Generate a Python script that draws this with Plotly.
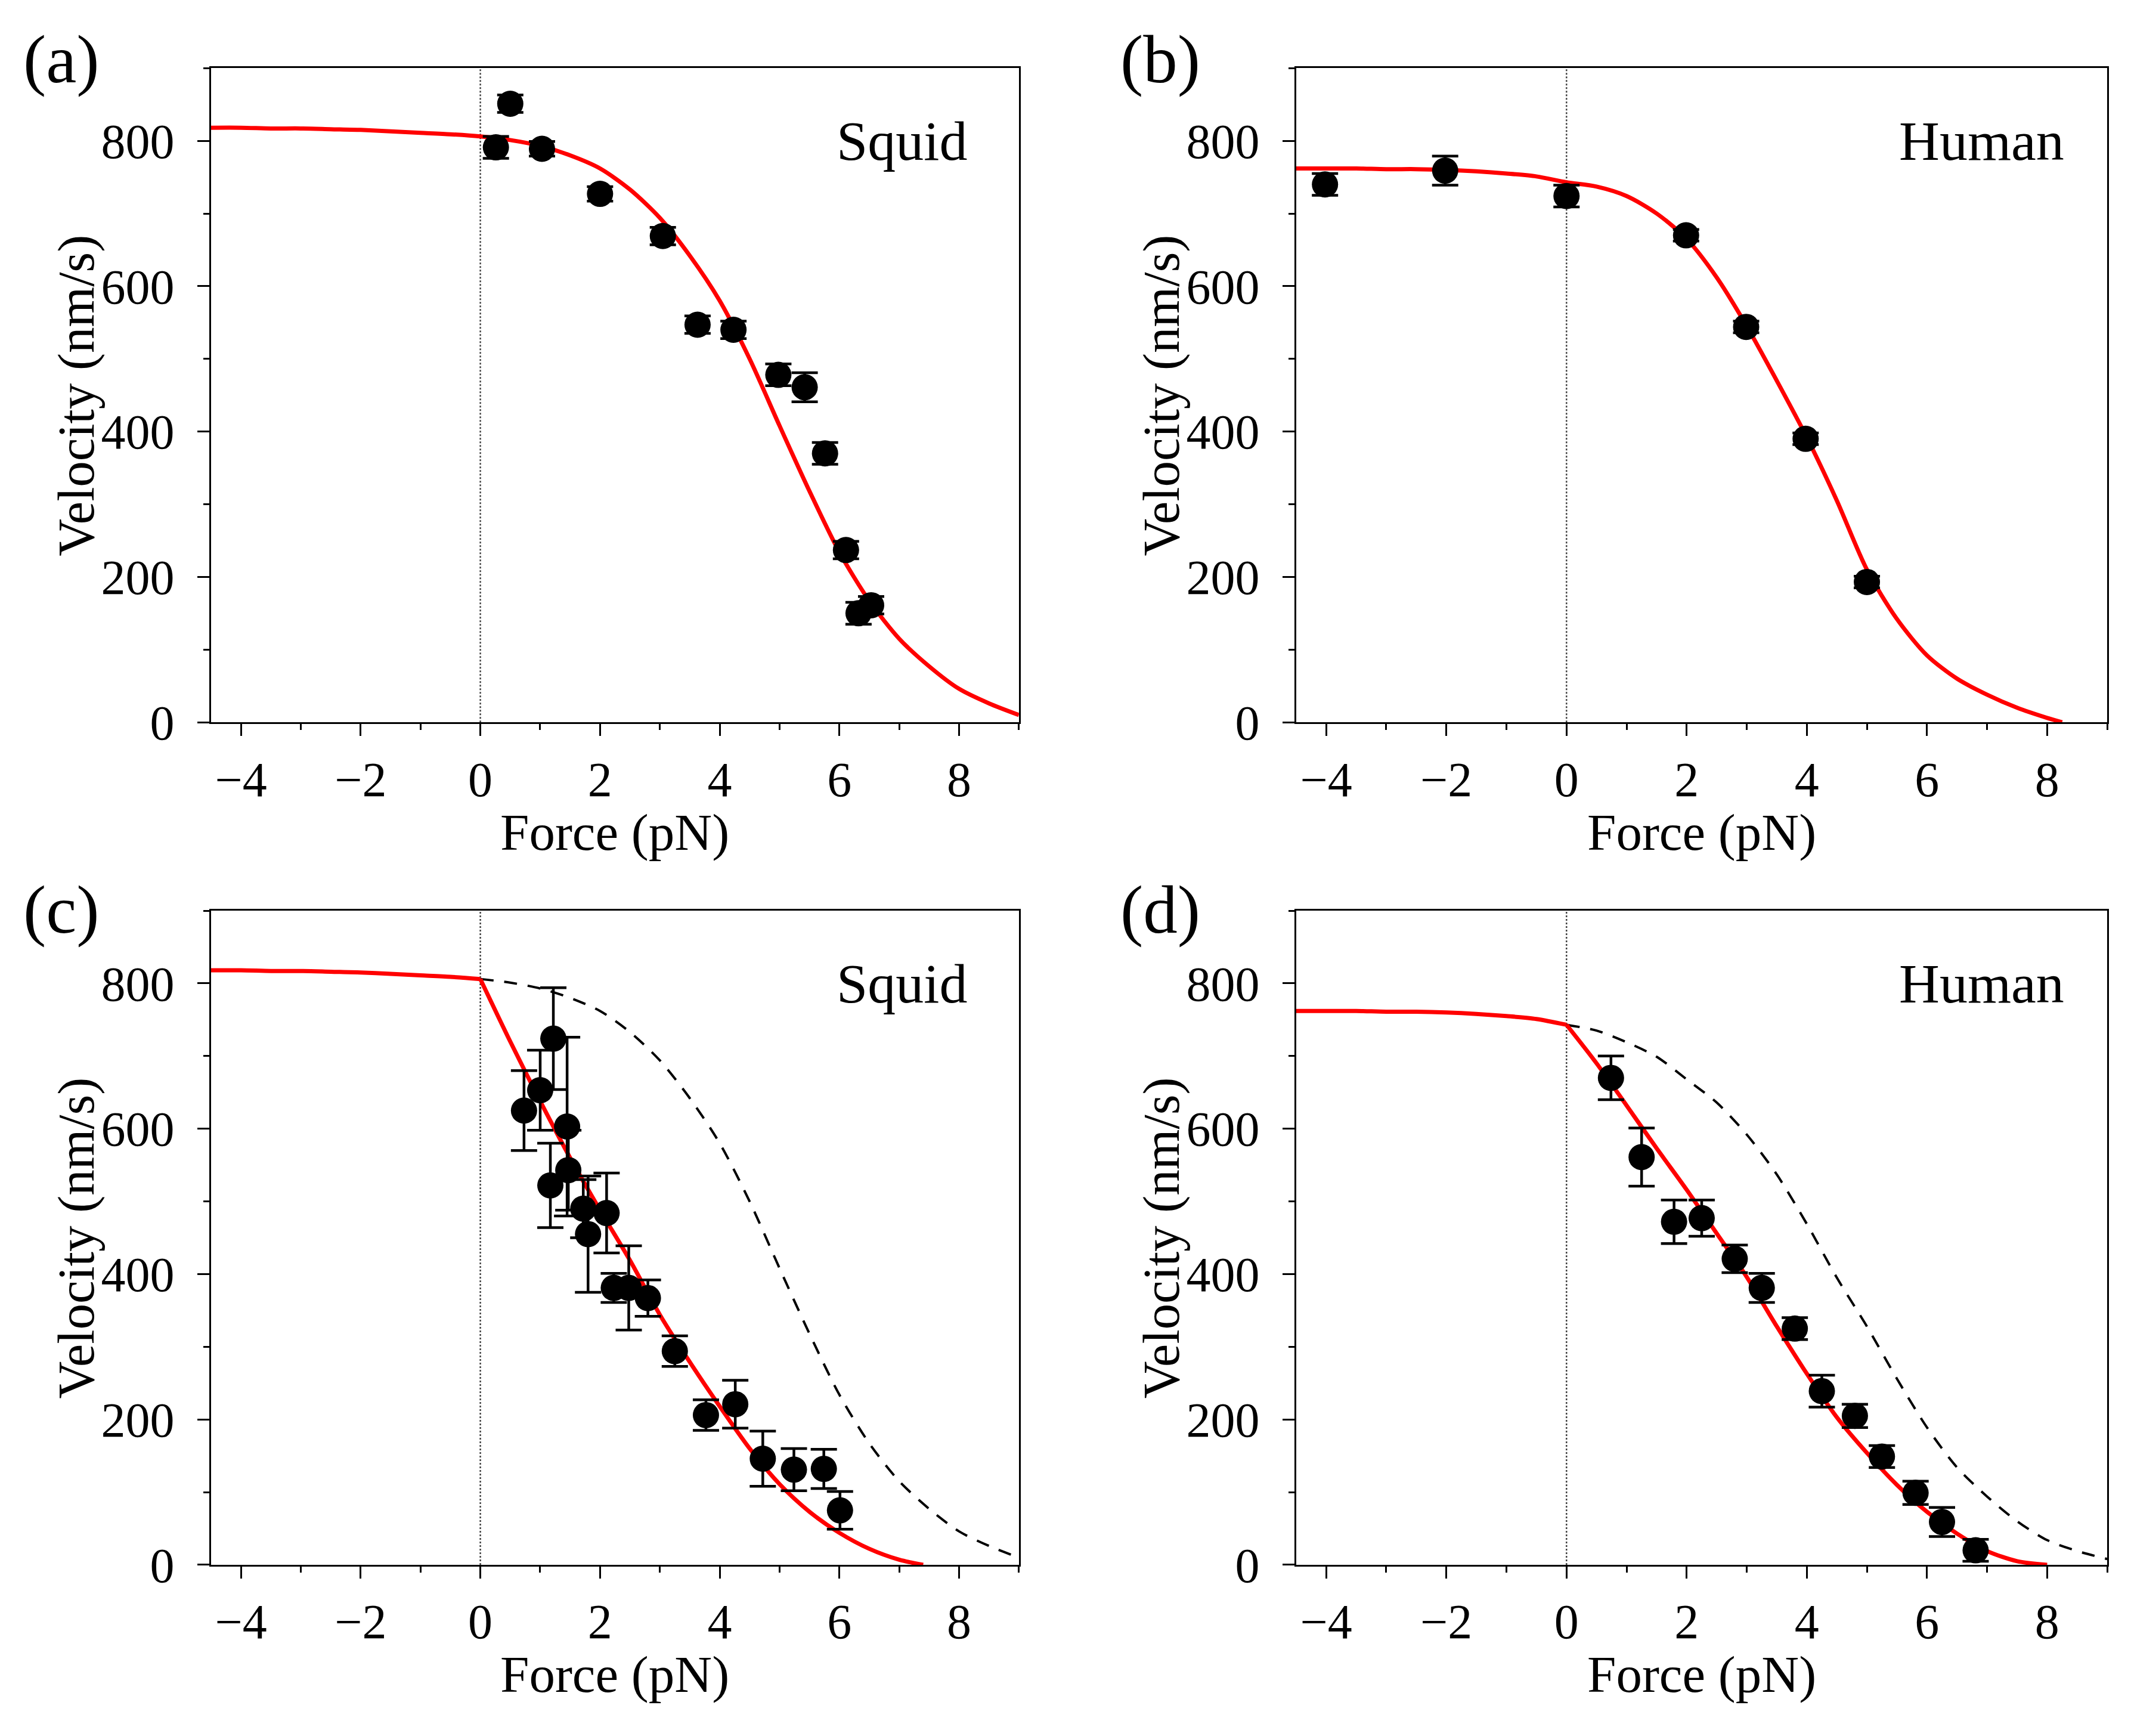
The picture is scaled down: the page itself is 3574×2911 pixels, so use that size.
import plotly.graph_objects as go

# Data
# (a) squid, unloaded force-velocity
squid_f = [0.26, 0.5, 1.03, 2.0, 3.05, 3.63, 4.23, 4.98, 5.42, 5.76, 6.11, 6.32, 6.53]
squid_v = [791, 851, 789, 727, 669, 547, 540, 478, 461, 370, 237, 150, 161]
squid_err = [15, 12, 10, 10, 12, 12, 12, 15, 20, 15, 12, 15, 12]

# (b) human
human_f = [-4.02, -2.02, 0.0, 1.99, 2.99, 3.98, 5.0]
human_v = [740, 759, 724, 670, 544, 390, 193]
human_err = [15, 20, 15, 8, 8, 8, 8]

# (c) squid, second data set
squid2_f = [0.73, 1.0, 1.22, 1.17, 1.45, 1.47, 1.72, 1.8, 2.11, 2.23, 2.48, 2.8,
            3.25, 3.77, 4.26, 4.72, 5.24, 5.74, 6.01]
squid2_v = [625, 653, 724, 522, 603, 543, 490, 455, 484, 381, 381, 367,
            294, 206, 221, 146, 131, 132, 75]
squid2_err = [55, 55, 70, 58, 123, 55, 40, 80, 55, 20, 58, 25,
              21, 21, 33, 38, 29, 27, 26]

# (d) human, second data set
human2_f = [0.74, 1.25, 1.79, 2.25, 2.8, 3.25, 3.8, 4.25, 4.8, 5.25, 5.81, 6.25, 6.81]
human2_v = [670, 561, 472, 477, 421, 381, 325, 239, 205, 149, 99, 59, 20]
human2_err = [30, 40, 30, 25, 19, 20, 15, 22, 16, 15, 16, 20, 15]

# fitted curves
fit_f = [-4.5, -4, -3.5, -3, -2.5, -2, -1.5, -1, -0.5, 0, 0.5, 1, 1.5, 2, 2.5, 3,
         3.5, 4, 4.5, 5, 5.5, 6, 6.5, 7, 7.5, 8, 8.5, 9]
squid_fit = [818, 818, 817, 817, 816, 815, 813, 811, 809, 806, 801, 793, 780, 762,
             733, 694, 642, 580, 500, 408, 318, 234, 167, 115, 77, 46, 26, 10]
human_fit_f = fit_f[:26] + [8.25]
human_fit = [762, 762, 762, 761, 761, 760, 758, 755, 751, 743, 737, 724, 700, 665,
             612, 545, 470, 392, 305, 210, 142, 92, 60, 38, 20, 6, 0]

# load curves for F >= 0 in (c) and (d)
load_f = [0, 0.5, 1, 1.5, 2, 2.5, 3, 3.5, 4, 4.5, 5, 5.5, 6, 6.5, 7, 7.5, 8, 8.5, 9]
squid_load_f = load_f[:15] + [7.4]
squid_load = [806, 720, 638, 560, 488, 419, 344, 279, 218, 160, 111, 73, 44, 22, 7, 0]
human_load = [743, 690, 632, 573, 516, 456, 396, 328, 263, 203, 154, 110, 73, 43, 19, 5, 0]
human_ref = [743, 735, 719, 699, 668, 636, 592, 537, 469, 395, 328, 256, 189, 134,
             94, 60, 34, 19, 8]

x_ticks = [-4, -2, 0, 2, 4, 6, 8]
y_ticks = [0, 200, 400, 600, 800]

FONT = "Liberation Serif"
RED = "#FF0000"

fig = go.Figure()


def points(f, v, e, ax):
    fig.add_trace(go.Scatter(
        x=f, y=v, mode="markers", xaxis="x" + ax, yaxis="y" + ax,
        marker=dict(color="black", size=44),
        error_y=dict(type="data", array=e, color="black", thickness=4.5, width=22),
        showlegend=False, cliponaxis=False))


def curve(f, v, ax, color=RED, width=7, dash="solid"):
    fig.add_trace(go.Scatter(
        x=f, y=v, mode="lines", xaxis="x" + ax, yaxis="y" + ax,
        line=dict(color=color, width=width, dash=dash, shape="spline", smoothing=0.8),
        showlegend=False, hoverinfo="skip"))


n0 = fit_f.index(0)

# (a)
curve(fit_f, squid_fit, "")
points(squid_f, squid_v, squid_err, "")
# (b)
curve(human_fit_f, human_fit, "2")
points(human_f, human_v, human_err, "2")
# (c)
curve(fit_f[n0:], squid_fit[n0:], "3", color="black", width=4, dash="22px,18px")
curve(fit_f[:n0 + 1], squid_fit[:n0 + 1], "3")
curve(squid_load_f, squid_load, "3")
points(squid2_f, squid2_v, squid2_err, "3")
# (d)
curve(load_f, human_ref, "4", color="black", width=4, dash="22px,18px")
curve(human_fit_f[:n0 + 1], human_fit[:n0 + 1], "4")
curve(load_f[:17], human_load, "4")
points(human2_f, human2_v, human2_err, "4")

# panel domains
xdom = {"": [0.0968, 0.4759], "2": [0.6060, 0.9866], "3": [0.0968, 0.4759], "4": [0.6060, 0.9866]}
ydom = {"": [0.5799, 0.9629], "2": [0.5799, 0.9629], "3": [0.0866, 0.4696], "4": [0.0866, 0.4696]}
over = {"": "5", "2": "6", "3": "7", "4": "8"}

layout = dict(
    width=3574, height=2911,
    margin=dict(l=0, r=0, t=0, b=0),
    paper_bgcolor="white", plot_bgcolor="white",
    font=dict(family=FONT, color="black", size=82),
)

for ax in ["", "2", "3", "4"]:
    layout["xaxis" + ax] = dict(
        domain=xdom[ax], anchor="y" + ax, range=[-4.5, 9],
        tickvals=x_ticks, ticks="outside", ticklen=20, tickwidth=3, tickcolor="black",
        minor=dict(dtick=1, tick0=0, ticks="outside", ticklen=10, tickwidth=3, tickcolor="black"),
        showline=True, linecolor="black", linewidth=3, mirror=True,
        showgrid=False, zeroline=False,
        tickfont=dict(size=82), ticklabelstandoff=2,
    )
    layout["yaxis" + ax] = dict(
        domain=ydom[ax], anchor="x" + ax, range=[0, 900],
        tickvals=y_ticks, ticks="outside", ticklen=20, tickwidth=3, tickcolor="black",
        minor=dict(dtick=100, tick0=0, ticks="outside", ticklen=10, tickwidth=3, tickcolor="black"),
        showline=True, linecolor="black", linewidth=3, mirror=True,
        showgrid=False, zeroline=False,
        tickfont=dict(size=82), ticklabelstandoff=22,
    )
    o = over[ax]
    # inward ticks on the top and right frame
    layout["xaxis" + o] = dict(
        overlaying="x" + ax, side="top", anchor="y" + ax, range=[-4.5, 9],
        tickvals=x_ticks, ticks="inside", ticklen=20, tickwidth=3, tickcolor="black",
        minor=dict(dtick=1, tick0=0, ticks="inside", ticklen=10, tickwidth=3, tickcolor="black"),
        showticklabels=False, showline=False, showgrid=False, zeroline=False,
    )
    layout["yaxis" + o] = dict(
        overlaying="y" + ax, side="right", anchor="x" + ax, range=[0, 900],
        tickvals=y_ticks, ticks="inside", ticklen=20, tickwidth=3, tickcolor="black",
        minor=dict(dtick=100, tick0=0, ticks="inside", ticklen=10, tickwidth=3, tickcolor="black"),
        showticklabels=False, showline=False, showgrid=False, zeroline=False,
    )

fig.update_layout(**layout)

for ax in ["", "2", "3", "4"]:
    # dotted line at zero force
    fig.add_shape(type="line", xref="x" + ax, yref="y" + ax + " domain",
                  x0=0, x1=0, y0=0, y1=1, layer="below",
                  line=dict(color="#444444", width=2.5, dash="dot"))
    # axis titles
    fig.add_annotation(x=0.5, y=0, xref="x" + ax + " domain", yref="y" + ax + " domain",
                       text="Force (pN)", showarrow=False, xanchor="center", yanchor="middle",
                       yshift=-184, font=dict(family=FONT, size=87, color="black"))
    fig.add_annotation(x=0, y=0.5, xref="x" + ax + " domain", yref="y" + ax + " domain",
                       text="Velocity (nm/s)", showarrow=False, textangle=-90,
                       xanchor="center", yanchor="middle", xshift=-226,
                       font=dict(family=FONT, size=87, color="black"))

# species labels
for ax, name, xr in [("", "Squid", 8.15), ("2", "Human", 8.3), ("3", "Squid", 8.15), ("4", "Human", 8.3)]:
    fig.add_annotation(x=xr, y=800, xref="x" + ax, yref="y" + ax, text=name,
                       showarrow=False, xanchor="right", yanchor="middle",
                       font=dict(family=FONT, size=94, color="black"))

# panel letters
for lab, px, py in [("(a)", 0.008, 0.968), ("(b)", 0.523, 0.968),
                    ("(c)", 0.008, 0.470), ("(d)", 0.523, 0.470)]:
    fig.add_annotation(x=px, y=py, xref="paper", yref="paper", text=lab,
                       showarrow=False, xanchor="left", yanchor="middle",
                       font=dict(family=FONT, size=115, color="black"))

fig.write_html("out.html")
